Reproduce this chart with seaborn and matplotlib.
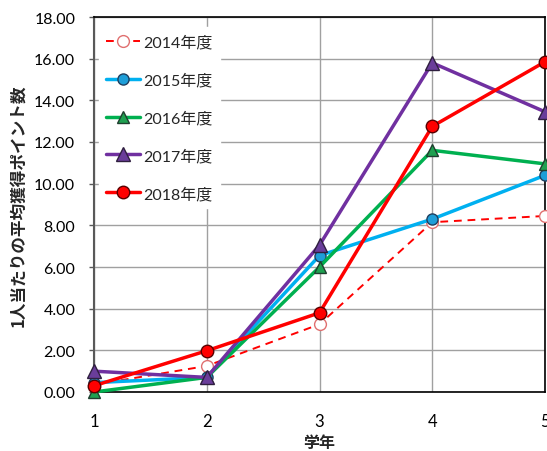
import matplotlib
matplotlib.use("Agg")
import matplotlib.pyplot as plt
import seaborn as sns
import pandas as pd

# School year (学年) on the x axis
grades = [1, 2, 3, 4, 5]

# Average points earned per person, by fiscal year
pts_2014 = [0.35, 1.25, 3.25, 8.15, 8.45]
pts_2015 = [0.45, 0.70, 6.55, 8.30, 10.40]
pts_2016 = [0.00, 0.70, 6.00, 11.60, 10.95]
pts_2017 = [1.00, 0.70, 7.05, 15.80, 13.45]
pts_2018 = [0.30, 1.98, 3.80, 12.75, 15.85]

series_labels = ["2014年度", "2015年度", "2016年度", "2017年度", "2018年度"]
series_values = [pts_2014, pts_2015, pts_2016, pts_2017, pts_2018]

styles = {
    "2014年度": dict(color="#FF0000", ls=(0, (4, 3)), lw=1.4, marker="o",
                    mfc="white", mec="#E07070", ms=8.5),
    "2015年度": dict(color="#00B0F0", ls="-", lw=2.5, marker="o",
                    mfc="#1E9ED8", mec="#1F3F5F", ms=8),
    "2016年度": dict(color="#00B050", ls="-", lw=2.5, marker="^",
                    mfc="#1FA050", mec="#1F3F2F", ms=8.5),
    "2017年度": dict(color="#7030A0", ls="-", lw=2.5, marker="^",
                    mfc="#6A3D9A", mec="#2F1F3F", ms=9.5),
    "2018年度": dict(color="#FF0000", ls="-", lw=2.5, marker="o",
                    mfc="#FF0000", mec="#5A0000", ms=9),
}

df = pd.DataFrame(
    [(g, lab, v) for lab, vals in zip(series_labels, series_values)
     for g, v in zip(grades, vals)],
    columns=["grade", "year", "points"],
)

sns.set_style("white")
plt.rcParams["font.family"] = ["Lato", "Noto Sans CJK JP", "DejaVu Sans"]

fig = plt.figure(figsize=(5.47, 4.52), dpi=100)
ax = fig.add_axes([94 / 547, 1 - 393 / 452, 451 / 547, 375 / 452])

for lab in series_labels:
    st = styles[lab]
    sub = df[df["year"] == lab]
    sns.lineplot(data=sub, x="grade", y="points", ax=ax, label=lab,
                 color=st["color"], linestyle=st["ls"], linewidth=st["lw"],
                 marker=st["marker"], markerfacecolor=st["mfc"],
                 markeredgecolor=st["mec"], markeredgewidth=1.0,
                 markersize=st["ms"], clip_on=False, zorder=3)

ax.set_xlim(1, 5)
ax.set_ylim(0, 18)
ax.set_xticks(grades)
ax.set_xticklabels([str(g) for g in grades])
ax.set_yticks(range(0, 19, 2))
ax.set_yticklabels([f"{v:.2f}" for v in range(0, 19, 2)])
ax.tick_params(axis="both", colors="#000000")
ax.tick_params(axis="x", labelsize=12, length=0, pad=15)
ax.tick_params(axis="y", labelsize=11.5, length=3.5, width=1,
               color="#595959", direction="out", pad=10, left=True)

ax.grid(True, color="#A0A0A0", linewidth=1.0)
ax.set_axisbelow(True)
for side in ["top", "right", "bottom"]:
    ax.spines[side].set_color("#000000")
    ax.spines[side].set_linewidth(1.2)
ax.spines["left"].set_color("#595959")
ax.spines["left"].set_linewidth(1.5)

ax.set_xlabel("学年", fontsize=11.5, fontweight="bold", labelpad=4,
              family=["Noto Sans CJK JP", "DejaVu Sans"])
ax.set_ylabel("1人当たりの平均獲得ポイント数", fontsize=12,
              fontweight="bold", labelpad=5,
              family=["Noto Sans CJK JP", "DejaVu Sans"])

leg = ax.legend(loc="upper left", frameon=True, fontsize=11.5,
                labelspacing=1.45, handlelength=2.1, handletextpad=0.25,
                borderaxespad=0.3, borderpad=0.45,
                bbox_to_anchor=(0.0, 0.985))
leg.get_frame().set_facecolor("white")
leg.get_frame().set_edgecolor("white")
leg.get_frame().set_alpha(1.0)

fig.savefig("out.png", dpi=100)
